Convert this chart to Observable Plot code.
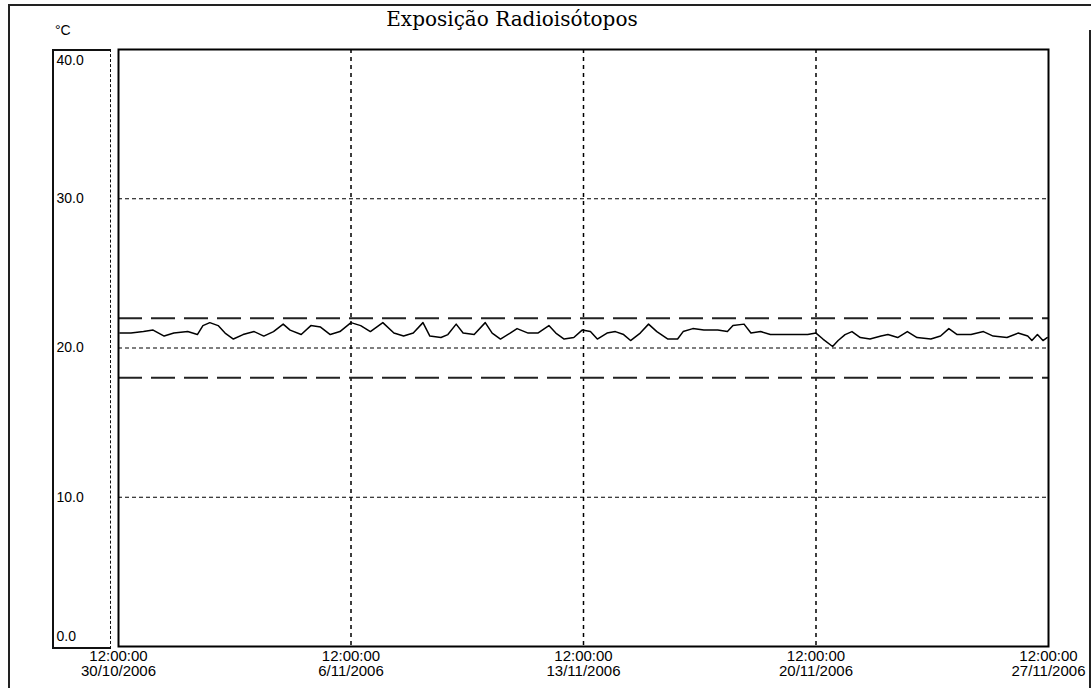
<!DOCTYPE html>
<html>
<head>
<meta charset="utf-8">
<script src="https://cdn.jsdelivr.net/npm/d3@7"></script>
<script src="https://cdn.jsdelivr.net/npm/@observablehq/plot@0.6"></script>
<style>
  html, body { margin: 0; padding: 0; background: #fff; }
  #wrap { position: relative; width: 1091px; height: 688px; overflow: hidden; font-family: "Liberation Sans", Arial, sans-serif; }
  #wrap svg { position: absolute; left: 0; top: 0; }
  .title { position: absolute; left: 0; width: 1024px; top: 7px; text-align: center; font-family: "DejaVu Serif", serif; font-size: 20px; color: #000; }
  .unit { position: absolute; left: 55px; top: 22px; font-size: 14px; }
  .ybox { position: absolute; left: 52px; top: 49px; width: 56px; height: 596px; border: 2px solid #111; border-right: 1px dashed #111; }
  .pageTop { position: absolute; left: 8px; right: 0; top: 4px; height: 2px; background: #222; }
  .pageLeft { position: absolute; left: 8px; top: 4px; bottom: 0; width: 2px; background: #222; }
  .pageRight { position: absolute; left: 1089px; top: 30px; bottom: 0; width: 2px; background: #222; }
</style>
</head>
<body>
<div id="wrap">
  <div class="pageTop"></div>
  <div class="pageLeft"></div>
  <div class="pageRight"></div>
  <div class="title">Exposição Radioisótopos</div>
  <div class="unit">°C</div>
  <div class="ybox"></div>
</div>
<script>
// ---- data ----
const startLabel = "30/10/2006 12:00:00";
const tickLabels = ["30/10/2006", "6/11/2006", "13/11/2006", "20/11/2006", "27/11/2006"];
const tickTime = "12:00:00";
const yTicks = [0, 10, 20, 30, 40];
const limitLines = [18, 22];
// hours after 30/10/2006 12:00:00
const hours = [1, 9, 18, 25, 33, 40, 50, 57, 61, 66, 72, 77, 83, 90, 98, 105, 112, 119, 124, 132,
  139, 146, 153, 160, 168, 175, 182, 191, 199, 206, 213, 220, 225, 233, 238, 244, 249, 257, 265, 270,
  276, 283, 288, 296, 303, 311, 316, 322, 329, 335, 341, 346, 353, 359, 365, 370, 377, 383, 389, 397,
  404, 408, 415, 423, 433, 440, 444, 452, 457, 464, 471, 478, 488, 498, 504, 509, 516, 520, 525, 530,
  536, 543, 551, 556, 563, 570, 577, 587, 594, 600, 606, 616, 625, 632, 642, 650, 657, 660, 664, 668, 671];
const temps = [21.0, 21.0, 21.1, 21.2, 20.8, 21.0, 21.1, 20.9, 21.5, 21.7, 21.5, 21.0, 20.6, 20.9, 21.1, 20.8, 21.1, 21.6, 21.2, 20.9,
  21.5, 21.4, 20.9, 21.1, 21.7, 21.5, 21.1, 21.7, 21.0, 20.8, 21.0, 21.7, 20.8, 20.7, 20.9, 21.6, 21.0, 20.9, 21.7, 21.0,
  20.6, 21.0, 21.3, 21.0, 21.0, 21.5, 21.0, 20.6, 20.7, 21.2, 21.1, 20.6, 21.0, 21.1, 20.9, 20.5, 21.0, 21.6, 21.1, 20.6,
  20.6, 21.1, 21.3, 21.2, 21.2, 21.1, 21.5, 21.6, 21.0, 21.1, 20.9, 20.9, 20.9, 20.9, 21.0, 20.6, 20.1, 20.5, 20.9, 21.1,
  20.7, 20.6, 20.8, 20.9, 20.7, 21.1, 20.7, 20.6, 20.8, 21.3, 20.9, 20.9, 21.1, 20.8, 20.7, 21.0, 20.8, 20.5, 20.9, 20.5, 20.7];

// ---- build ----
const parse = d3.timeParse("%d/%m/%Y %H:%M:%S");
const start = parse(startLabel);
const tickDates = tickLabels.map(s => parse(s + " " + tickTime));
const data = hours.map((h, i) => ({date: d3.timeHour.offset(start, h), temp: temps[i]}));
const fmt = d3.timeFormat("%-d/%-m/%Y");

const chart = Plot.plot({
  width: 1091,
  height: 688,
  marginLeft: 118,
  marginRight: 43,
  marginTop: 49,
  marginBottom: 42,
  style: {background: "transparent", fontFamily: "'Liberation Sans', Arial, sans-serif", fontSize: "14px", color: "#000"},
  x: {type: "time", domain: [tickDates[0], tickDates[tickDates.length - 1]], label: null},
  y: {domain: [yTicks[0], yTicks[yTicks.length - 1]], label: null},
  marks: [
    // dotted grid
    Plot.ruleY(yTicks.slice(1, -1), {stroke: "#000", strokeWidth: 1.2, strokeDasharray: "4,3"}),
    Plot.ruleX(tickDates.slice(1, -1), {stroke: "#000", strokeWidth: 1.5, strokeDasharray: "4,4"}),
    // limit lines
    Plot.ruleY(limitLines, {stroke: "#222", strokeWidth: 2, strokeDasharray: "24,9"}),
    // series
    Plot.line(data, {x: "date", y: "temp", stroke: "#000", strokeWidth: 1.5}),
    Plot.frame({stroke: "#000", strokeWidth: 2}),
    // axes
    Plot.axisX({ticks: tickDates, tickSize: 0, tickPadding: 3, lineHeight: 1.05, label: null, fontSize: 15,
      tickFormat: d => tickTime + "\n" + fmt(d), fill: "#000"}),
    Plot.axisY({ticks: yTicks.slice(1, -1), tickSize: 0, tickPadding: 0, textAnchor: "start", dx: -62, label: null, fontSize: 14,
      tickFormat: d => d.toFixed(1), fill: "#000"}),
    Plot.axisY({ticks: yTicks.slice(-1), tickSize: 0, tickPadding: 0, textAnchor: "start", dx: -62, dy: 11, label: null, fontSize: 14,
      tickFormat: d => d.toFixed(1), fill: "#000"}),
    Plot.axisY({ticks: yTicks.slice(0, 1), tickSize: 0, tickPadding: 0, textAnchor: "start", dx: -62, dy: -10, label: null, fontSize: 14,
      tickFormat: d => d.toFixed(1), fill: "#000"})
  ]
});
document.getElementById("wrap").insertBefore(chart, document.getElementById("wrap").firstChild);
</script>
</body>
</html>
